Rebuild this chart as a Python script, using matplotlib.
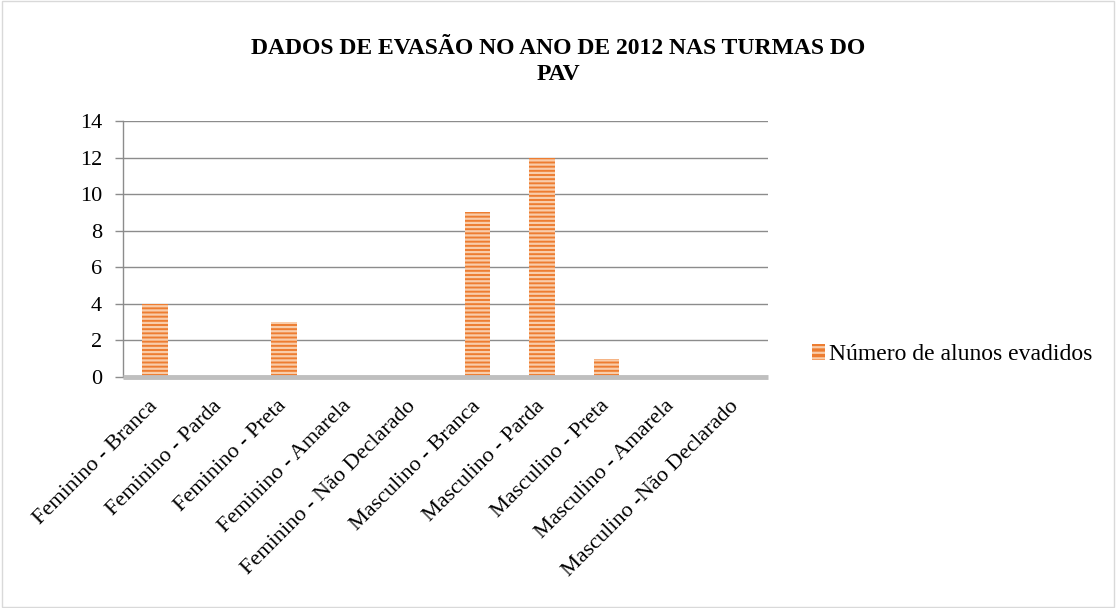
import matplotlib
matplotlib.use("Agg")
import matplotlib.pyplot as plt
from matplotlib.patches import Rectangle, Patch

plt.rcParams['font.family'] = ['Liberation Serif', 'DejaVu Serif']
plt.rcParams['hatch.linewidth'] = 1.6

categories = ["Feminino - Branca", "Feminino - Parda", "Feminino - Preta",
              "Feminino - Amarela", "Feminino - Não Declarado",
              "Masculino - Branca", "Masculino - Parda", "Masculino - Preta",
              "Masculino - Amarela", "Masculino -Não Declarado"]
values = [4, 0, 3, 0, 0, 9, 12, 1, 0, 0]
series_name = "Número de alunos evadidos"
title = "DADOS DE EVASÃO NO ANO DE 2012 NAS TURMAS DO\nPAV"
yticks = [0, 2, 4, 6, 8, 10, 12, 14]

fig = plt.figure(figsize=(11.16, 6.08), dpi=100)
ax = fig.add_axes([0.110, 0.380, 0.578, 0.421])

x = list(range(len(categories)))
bars = ax.bar(x, values, width=0.4, color='#ED7D31', edgecolor='#F9CDAA',
              hatch='----', linewidth=0, label=series_name)

ax.set_xlim(-0.5, len(categories) - 0.5)
ax.set_ylim(0, 14)
ax.set_yticks(yticks)
ax.set_yticklabels([str(t) for t in yticks], fontsize=16)
ax.yaxis.grid(True, color='#8C8C8C', linewidth=1.0)
ax.set_axisbelow(True)

for s in ['top', 'right']:
    ax.spines[s].set_visible(False)
ax.spines['left'].set_color('#8C8C8C')
ax.spines['left'].set_linewidth(1.0)
ax.spines['bottom'].set_color('#BFBFBF')
ax.spines['bottom'].set_linewidth(3.5)
ax.spines['bottom'].set_capstyle('butt')
ax.tick_params(axis='y', length=6, color='#8C8C8C', width=1.0, pad=9)
ax.tick_params(axis='x', length=0, pad=19)

ax.set_xticks(x)
ax.set_xticklabels(categories, rotation=45, ha='right', va='center',
                   rotation_mode='anchor', fontsize=16)

fig.text(0.50, 0.938, title, ha='center', va='top', fontsize=17,
         fontweight='bold', linespacing=1.32)

leg = fig.legend(handles=[Patch(facecolor='#ED7D31', edgecolor='#F9CDAA',
                                hatch='---', linewidth=0, label=series_name)],
                 loc='center left', bbox_to_anchor=(0.709, 0.417), frameon=False,
                 fontsize=17, handlelength=0.55, handleheight=0.65,
                 handletextpad=0.15)

fig.patches.append(Rectangle((0.002, 0.002), 0.996, 0.996, transform=fig.transFigure,
                             fill=False, edgecolor='#D9D9D9', linewidth=1.0))

fig.savefig("out.png", dpi=100)
